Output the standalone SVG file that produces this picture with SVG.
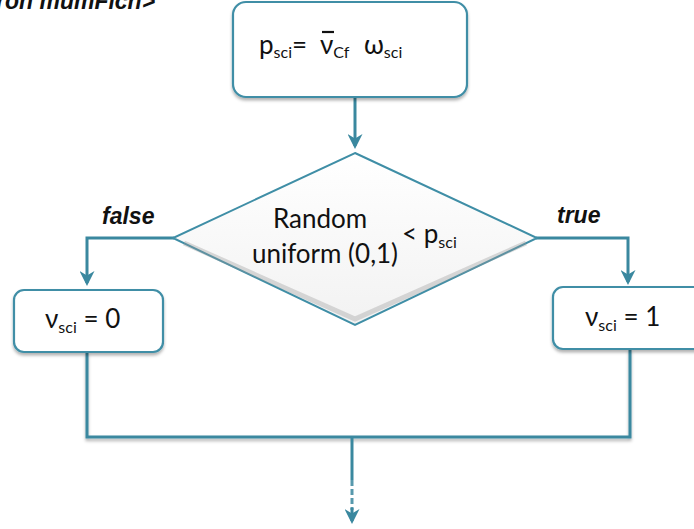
<svg xmlns="http://www.w3.org/2000/svg" width="694" height="529" viewBox="0 0 694 529">
<style>
.box{fill:#fff;stroke:#3f8ea6;stroke-width:2.2}
.ln{fill:none;stroke:#3a889f;stroke-width:3}
.t{font-family:Lato,"Open Sans","Liberation Sans",sans-serif;font-size:26px;fill:#111}
.s{font-size:16px}
.lab{font-family:"Liberation Sans",Arial,sans-serif;font-size:23px;font-weight:bold;font-style:italic;fill:#111}
</style>
<defs>
<filter id="sh" x="-10%" y="-10%" width="120%" height="130%">
<feDropShadow dx="0" dy="2.5" stdDeviation="1.5" flood-color="#000" flood-opacity="0.3"/>
</filter>
<marker id="ah" viewBox="0 0 10 10" refX="8" refY="5" markerWidth="5" markerHeight="5" orient="auto">
<path d="M0,0 L10,5 L0,10 L3,5 z" fill="#3a889f"/>
</marker>
<linearGradient id="dg" x1="0" y1="0" x2="0" y2="1">
<stop offset="0" stop-color="#fff"/>
<stop offset="1" stop-color="#f2f2f2"/>
</linearGradient>
</defs>
<text class="lab" x="-4" y="9" font-size="20">ron mumFlch&gt;</text>
<g id="connectors">
<line class="ln" x1="355" y1="98" x2="355" y2="146" marker-end="url(#ah)"/>
<polyline class="ln" points="174,238 87,238 87,283" marker-end="url(#ah)"/>
<polyline class="ln" points="536,238 628,238 628,282" marker-end="url(#ah)"/>
<polyline class="ln" points="87,352 87,437 630,437 630,349" filter="url(#sh)"/>
<line class="ln" x1="352" y1="437" x2="352" y2="480"/>
<line x1="352" y1="480" x2="352" y2="510" stroke="#3a889f" stroke-width="3" stroke-dasharray="6,3" opacity="0.85"/>
<line x1="352" y1="508" x2="352" y2="521" stroke="#3a889f" stroke-width="3" marker-end="url(#ah)"/>
</g>
<g id="top">
<rect class="box" x="233" y="2" width="234" height="95" rx="13" filter="url(#sh)"/>
<text class="t" x="259" y="54" font-size="24">p<tspan class="s" dy="4">sci</tspan><tspan dy="-4">=</tspan></text>
<text class="t" x="320" y="54" font-size="24">ν<tspan class="s" dy="4">Cf</tspan></text>
<line x1="322" y1="32" x2="334" y2="32" stroke="#111" stroke-width="2.2"/>
<text class="t" x="364" y="54" font-size="24">ω<tspan class="s" dy="4">sci</tspan></text>
</g>
<g id="decision">
<polygon points="355,153 537,238 355,325 173,238" fill="url(#dg)" stroke="#3f8ea6" stroke-width="2"/>
<polyline points="184,243 355,319 526,243" fill="none" stroke="#999" stroke-width="5" opacity="0.35"/>
<text class="t" x="320" y="228" text-anchor="middle">Random</text>
<text class="t" x="325" y="263" text-anchor="middle">uniform (0,1)</text>
<text class="t" x="402" y="243">&lt; p<tspan class="s" dy="5">sci</tspan></text>
</g>
<text class="lab" x="102" y="224">false</text>
<text class="lab" x="557" y="223">true</text>
<g id="left">
<rect class="box" x="14" y="290" width="149" height="62" rx="10" filter="url(#sh)"/>
<text class="t" x="45" y="328">ν<tspan class="s" dy="5">sci</tspan><tspan dy="-5"> = 0</tspan></text>
</g>
<g id="right">
<rect class="box" x="553" y="287" width="160" height="62" rx="10" filter="url(#sh)"/>
<text class="t" x="585" y="326">ν<tspan class="s" dy="5">sci</tspan><tspan dy="-5"> = 1</tspan></text>
</g>
</svg>
